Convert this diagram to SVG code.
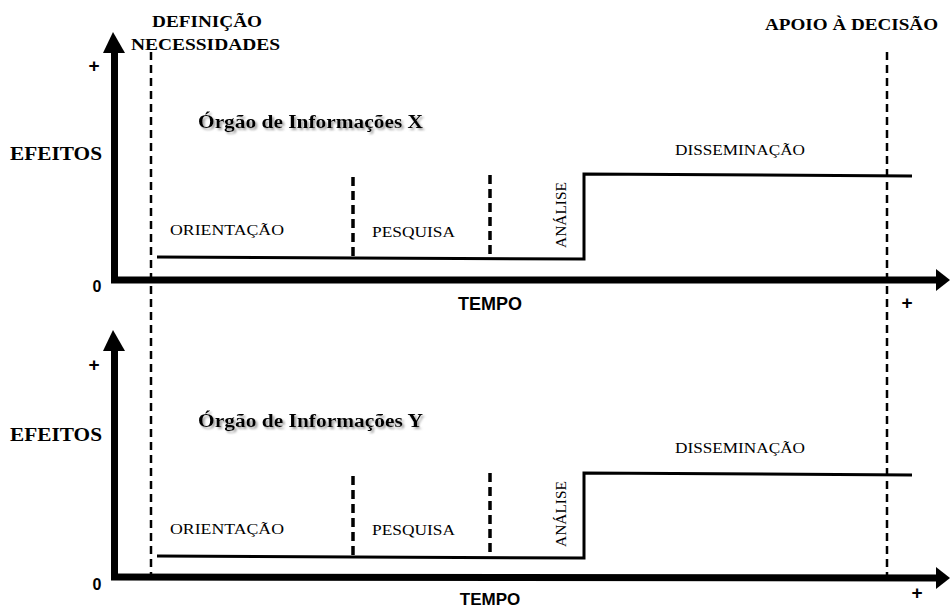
<svg xmlns="http://www.w3.org/2000/svg" width="950" height="610" viewBox="0 0 950 610">
<defs>
<filter id="sh" x="-5%" y="-30%" width="115%" height="180%">
<feDropShadow dx="2" dy="2" stdDeviation="1.2" flood-color="#888" flood-opacity="0.8"/>
</filter>
</defs>
<style>
.ser{font-family:"Liberation Serif","Times New Roman",serif;fill:#000}
.b{font-weight:bold}
.sans{font-family:"Liberation Sans",Arial,sans-serif;font-weight:bold;fill:#000}
.axis{stroke:#000;stroke-width:7;fill:none}
.head{fill:#000}
.dash{stroke:#000;stroke-width:2.5;stroke-dasharray:8 5;fill:none}
.dash2{stroke:#000;stroke-width:3.5;stroke-dasharray:9 5;fill:none}
.step{stroke:#000;stroke-width:3;fill:none}
</style>
<rect width="950" height="610" fill="#fff"/>

<g id="connectors">
  <line class="dash" x1="151" y1="52" x2="151" y2="578"/>
  <line class="dash" x1="887" y1="52" x2="887" y2="576"/>
</g>

<g id="chart-x">
  <line class="axis" x1="114.5" y1="50" x2="114.5" y2="280"/>
  <line class="axis" x1="111" y1="280" x2="940" y2="280"/>
  <polygon class="head" points="113,32 103,53 125,53"/>
  <polygon class="head" points="950,280 936,269 936,291"/>
  <path class="step" d="M157,257 L584,259 L584,174 L912,176"/>
  <line class="dash2" x1="353" y1="177" x2="353" y2="257"/>
  <line class="dash2" x1="490" y1="175" x2="490" y2="258"/>
  <text class="sans" x="94" y="72" font-size="19" text-anchor="middle">+</text>
  <text class="sans" x="97" y="292" font-size="16" text-anchor="middle">0</text>
  <text class="ser b" x="10" y="160" font-size="18" textLength="92" lengthAdjust="spacingAndGlyphs">EFEITOS</text>
  <text class="ser b" x="198" y="128" font-size="18" textLength="225" lengthAdjust="spacingAndGlyphs" filter="url(#sh)">Órgão de Informações X</text>
  <text class="ser" x="170" y="235" font-size="15" textLength="114" lengthAdjust="spacingAndGlyphs">ORIENTAÇÃO</text>
  <text class="ser" x="372" y="237" font-size="15" textLength="83" lengthAdjust="spacingAndGlyphs">PESQUISA</text>
  <text class="ser" transform="translate(566,248) rotate(-90)" font-size="15" textLength="66" lengthAdjust="spacingAndGlyphs">ANÁLISE</text>
  <text class="ser" x="675" y="155" font-size="15" textLength="130" lengthAdjust="spacingAndGlyphs">DISSEMINAÇÃO</text>
  <text class="sans" x="490" y="310" font-size="18" text-anchor="middle">TEMPO</text>
  <text class="sans" x="907" y="309" font-size="19" text-anchor="middle">+</text>
</g>

<g id="chart-y">
  <line class="axis" x1="114.5" y1="348" x2="114.5" y2="577"/>
  <line class="axis" x1="111" y1="577" x2="940" y2="578"/>
  <polygon class="head" points="113,330 103,351 125,351"/>
  <polygon class="head" points="950,578 936,567 936,589"/>
  <path class="step" d="M157,556 L584,558 L584,473 L912,475"/>
  <line class="dash2" x1="353" y1="476" x2="353" y2="556"/>
  <line class="dash2" x1="490" y1="473" x2="490" y2="557"/>
  <text class="sans" x="94" y="371" font-size="19" text-anchor="middle">+</text>
  <text class="sans" x="97" y="590" font-size="16" text-anchor="middle">0</text>
  <text class="ser b" x="10" y="441" font-size="18" textLength="92" lengthAdjust="spacingAndGlyphs">EFEITOS</text>
  <text class="ser b" x="198" y="427" font-size="18" textLength="225" lengthAdjust="spacingAndGlyphs" filter="url(#sh)">Órgão de Informações Y</text>
  <text class="ser" x="170" y="534" font-size="15" textLength="114" lengthAdjust="spacingAndGlyphs">ORIENTAÇÃO</text>
  <text class="ser" x="372" y="535" font-size="15" textLength="83" lengthAdjust="spacingAndGlyphs">PESQUISA</text>
  <text class="ser" transform="translate(566,547) rotate(-90)" font-size="15" textLength="66" lengthAdjust="spacingAndGlyphs">ANÁLISE</text>
  <text class="ser" x="675" y="453" font-size="15" textLength="130" lengthAdjust="spacingAndGlyphs">DISSEMINAÇÃO</text>
  <text class="sans" x="490" y="605" font-size="17" text-anchor="middle">TEMPO</text>
  <text class="sans" x="917" y="599" font-size="19" text-anchor="middle">+</text>
</g>

<g id="labels">
  <text class="ser b" x="152" y="27" font-size="17" textLength="110" lengthAdjust="spacingAndGlyphs">DEFINIÇÃO</text>
  <text class="ser b" x="131" y="50" font-size="17" textLength="149" lengthAdjust="spacingAndGlyphs">NECESSIDADES</text>
  <text class="ser b" x="765" y="30" font-size="17" textLength="173" lengthAdjust="spacingAndGlyphs">APOIO À DECISÃO</text>
</g>
</svg>
